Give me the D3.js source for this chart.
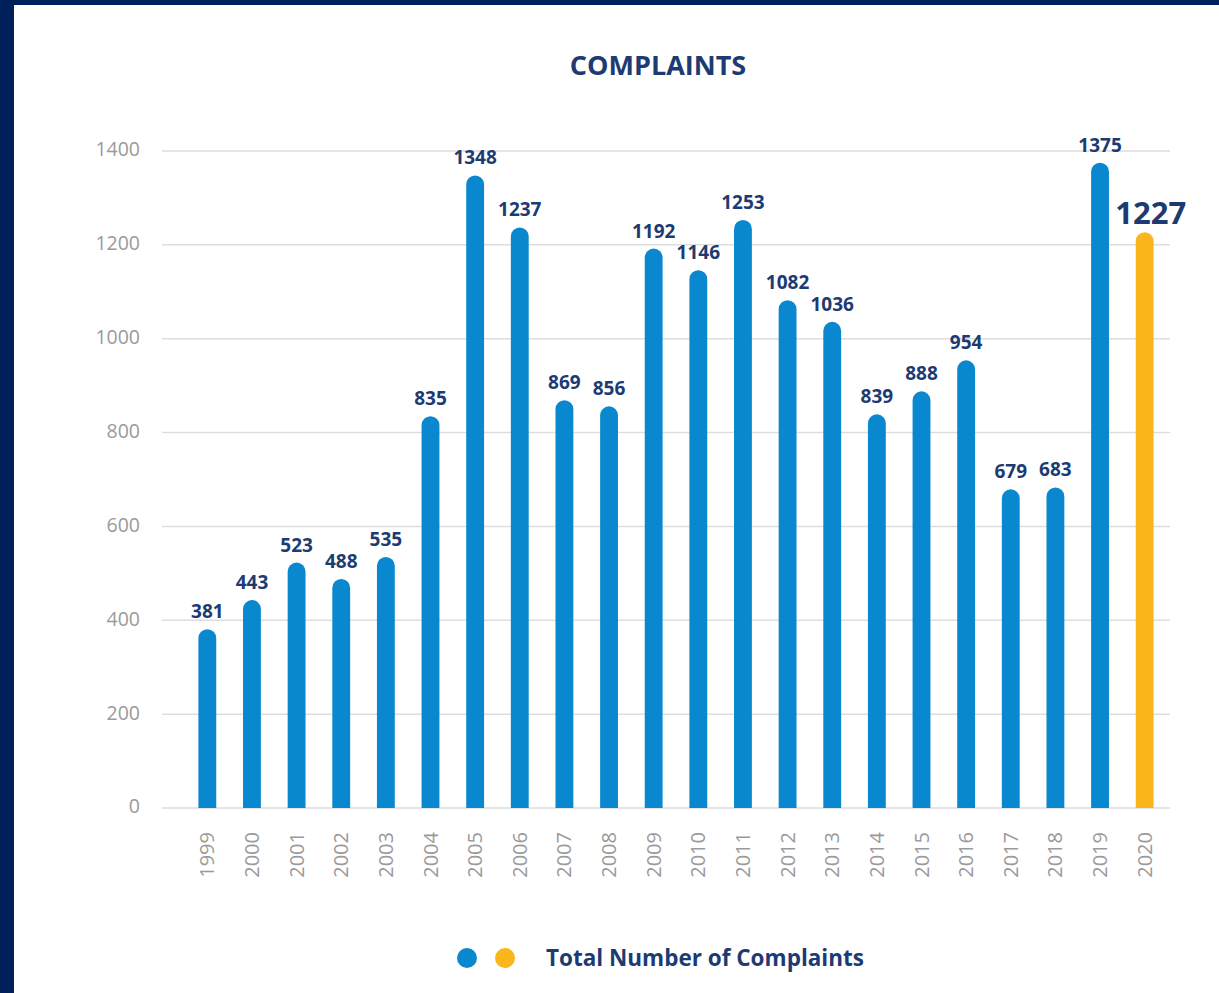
<!DOCTYPE html>
<html>
<head>
<meta charset="utf-8">
<script src="https://cdn.jsdelivr.net/npm/d3@7"></script>
<style>
  html, body { margin: 0; padding: 0; background: #ffffff; }
  svg { display: block; }
</style>
</head>
<body>
<div id="chart"></div>
<script>
// values
var years = ["1999","2000","2001","2002","2003","2004","2005","2006","2007","2008","2009",
             "2010","2011","2012","2013","2014","2015","2016","2017","2018","2019","2020"];
var complaints = [381, 443, 523, 488, 535, 835, 1348, 1237, 869, 856, 1192,
                  1146, 1253, 1082, 1036, 839, 888, 954, 679, 683, 1375, 1227];
var yTicks = [0, 200, 400, 600, 800, 1000, 1200, 1400];
var highlightYear = "2020";

var W = 1219, H = 993;
var blue = "#0a88cf", orange = "#fbb61b", navy = "#1d3b73", grey = "#9a9a9a";
var font = "'Open Sans', sans-serif";

var svg = d3.select("#chart")
    .append("svg")
    .attr("width", W)
    .attr("height", H);

// navy frame
svg.append("rect").attr("width", W).attr("height", H).attr("fill", "#00205b");
svg.append("rect").attr("x", 14).attr("y", 5).attr("width", W - 14).attr("height", H - 5).attr("fill", "#ffffff");

var x = d3.scaleBand()
    .domain(years)
    .range([185, 1167])
    .paddingInner(0.6)
    .paddingOuter(0.3);

var y = d3.scaleLinear()
    .domain([0, 1400])
    .range([808, 151]);

// title
svg.append("text")
    .attr("x", 658).attr("y", 75)
    .attr("text-anchor", "middle")
    .attr("font-family", font)
    .attr("font-weight", "bold")
    .attr("font-size", "27px")
    .attr("fill", navy)
    .text("COMPLAINTS");

// gridlines
svg.selectAll("line.grid")
    .data(yTicks)
    .enter()
    .append("line")
    .attr("class", "grid")
    .attr("x1", 162).attr("x2", 1170)
    .attr("y1", function(d) { return y(d); })
    .attr("y2", function(d) { return y(d); })
    .attr("stroke", "#dddddd")
    .attr("stroke-width", 1.5);

// y axis labels
var yAxis = svg.append("g")
    .attr("transform", "translate(140,0)")
    .call(d3.axisLeft(y).tickValues(yTicks).tickFormat(d3.format("d")).tickSize(0).tickPadding(0));
yAxis.select(".domain").remove();
yAxis.selectAll("text")
    .attr("font-family", font)
    .attr("font-size", "19.5px")
    .attr("fill", grey)
    .attr("dy", "0.25em");

// x axis labels (rotated)
var xAxis = svg.append("g")
    .attr("transform", "translate(0,832)")
    .call(d3.axisBottom(x).tickSize(0).tickPadding(0));
xAxis.select(".domain").remove();
xAxis.selectAll("text")
    .attr("font-family", font)
    .attr("font-size", "20px")
    .attr("fill", grey)
    .attr("text-anchor", "end")
    .attr("transform", "rotate(-90)")
    .attr("x", 0)
    .attr("y", 0)
    .attr("dy", "0.35em");

var data = years.map(function(d, i) { return {year: d, value: complaints[i]}; });
var bw = x.bandwidth();

// bars with rounded top
svg.selectAll("path.bar")
    .data(data)
    .enter()
    .append("path")
    .attr("class", "bar")
    .attr("fill", function(d) { return d.year === highlightYear ? orange : blue; })
    .attr("d", function(d) {
        var x0 = x(d.year), x1 = x0 + bw, r = bw / 2;
        var top = y(d.value), bottom = y(0);
        return "M" + x0 + "," + bottom +
               "V" + (top + r) +
               "A" + r + "," + r + " 0 0 1 " + x1 + "," + (top + r) +
               "V" + bottom + "Z";
    });

// value labels
svg.selectAll("text.val")
    .data(data)
    .enter()
    .append("text")
    .attr("class", "val")
    .attr("x", function(d) { return x(d.year) + bw / 2 + (d.year === highlightYear ? 6 : 0); })
    .attr("y", function(d) { return y(d.value) - (d.year === highlightYear ? 8 : 11); })
    .attr("text-anchor", "middle")
    .attr("font-family", font)
    .attr("font-weight", "bold")
    .attr("font-size", function(d) { return d.year === highlightYear ? "31px" : "19px"; })
    .attr("fill", navy)
    .text(function(d) { return d.value; });

// legend
svg.append("circle").attr("cx", 467).attr("cy", 958).attr("r", 10).attr("fill", blue);
svg.append("circle").attr("cx", 505).attr("cy", 958).attr("r", 10).attr("fill", orange);
svg.append("text")
    .attr("x", 546).attr("y", 966)
    .attr("font-family", font)
    .attr("font-weight", "bold")
    .attr("font-size", "22.5px")
    .attr("fill", navy)
    .text("Total Number of Complaints");
</script>
</body>
</html>
